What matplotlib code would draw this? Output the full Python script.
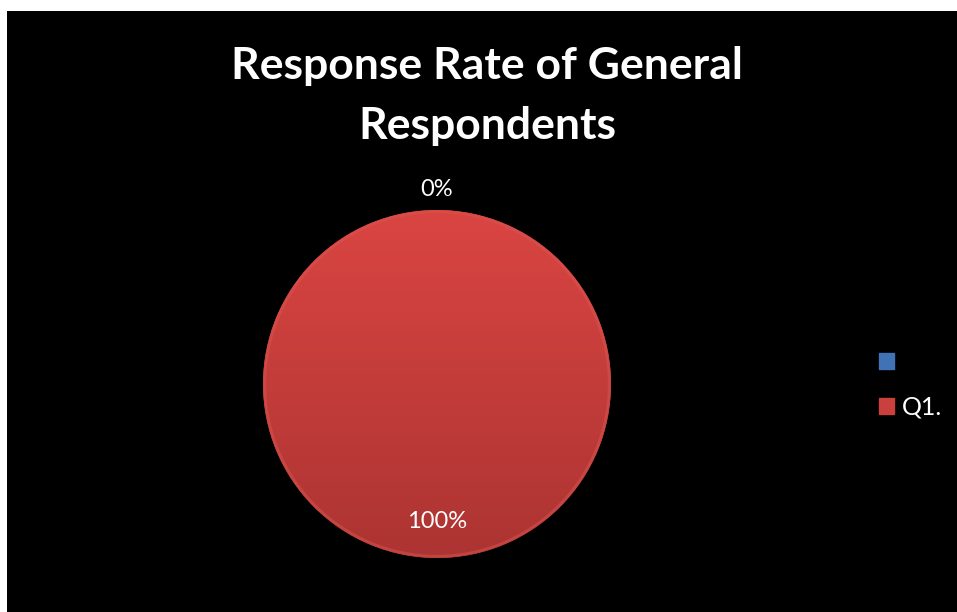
import matplotlib.pyplot as plt
import matplotlib.patches as mpatches
from matplotlib.colors import LinearSegmentedColormap
import numpy as np

# data
categories = ["", "Q1."]
values = [0, 100]
colors = ["#3F73B5", "#C9403D"]
title = "Response Rate of General\nRespondents"

plt.rcParams['font.family'] = ['Lato', 'DejaVu Sans']

W, H = 957, 612
fig = plt.figure(figsize=(W / 100, H / 100), dpi=100, facecolor="white")

# black chart area (white margin at top/left)
bg = fig.add_axes([7 / W, 0, 1 - 7 / W, 1 - 11 / H])
bg.set_facecolor("black")
bg.set_xticks([])
bg.set_yticks([])
for s in bg.spines.values():
    s.set_visible(False)

fig.text(487 / W, 1 - 96 / H, title, ha="center", va="center",
         fontsize=32, fontweight="bold", color="white", linespacing=1.58)

# pie axes
cx, cy, r = 437, 384, 174
ax = fig.add_axes([(cx - r) / W, (H - cy - r) / H, 2 * r / W, 2 * r / H])
ax.set_facecolor("none")
wedges, _ = ax.pie(values, colors=colors, startangle=90, counterclock=False,
                   radius=1, wedgeprops=dict(linewidth=0))
ax.set_xlim(-1, 1)
ax.set_ylim(-1, 1)
ax.axis("off")

# vertical gradient on the red slice
grad = np.linspace(0, 1, 256).reshape(-1, 1)
cmap = LinearSegmentedColormap.from_list("red3d", ["#AC3432", "#DA4542"])
for w, v in zip(wedges, values):
    if v > 0:
        im = ax.imshow(grad, cmap=cmap, extent=(-1, 1, -1, 1), origin="lower",
                       aspect="auto", zorder=w.get_zorder() + 0.1)
        im.set_clip_path(w)
ax.add_patch(mpatches.Circle((0, 0), 0.99, fill=False, edgecolor="#D85550",
                             linewidth=2, alpha=0.5, zorder=5))

# percentage labels
total = sum(values)
start = 90.0
for v in values:
    span = 360.0 * v / total
    mid = np.deg2rad(start - span / 2)
    dist = 1.12 if v / total < 0.05 else 0.79
    ax.text(dist * np.cos(mid), dist * np.sin(mid), f"{v / total:.0%}",
            ha="center", va="center", fontsize=17, color="white", zorder=6,
            clip_on=False)
    start -= span

# legend
handles = [mpatches.Patch(facecolor=c, edgecolor=c) for c in colors]
fig.legend(handles, categories, loc="center left",
           bbox_to_anchor=(879 / W, 1 - 385 / H), frameon=False,
           fontsize=18, labelcolor="white", handlelength=0.6,
           handleheight=0.6, handletextpad=0.3, labelspacing=0.88,
           borderpad=0, borderaxespad=0)

fig.savefig("out.png", dpi=100, facecolor="white")
